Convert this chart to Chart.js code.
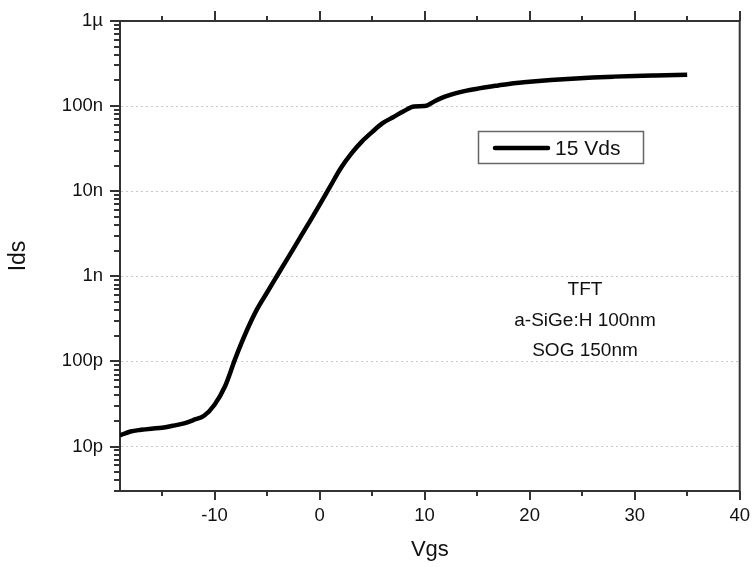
<!DOCTYPE html>
<html>
<head>
<meta charset="utf-8">
<script src="https://cdn.jsdelivr.net/npm/chart.js@4.4.1/dist/chart.umd.min.js"></script>
<style>
  html, body { margin: 0; padding: 0; background: #fff; }
  #wrap { width: 755px; height: 567px; }
</style>
</head>
<body>
<div id="wrap"><canvas id="chart" width="755" height="567"></canvas></div>
<script>
// 전달 특성
const vgs = [-19, -18, -17, -16, -15, -14, -13, -12, -11, -10, -9, -8, -7, -6, -5, -4, -3, -2, -1, 0,
  1, 2, 3, 4, 5, 6, 7, 8, 9, 10, 11, 12, 13, 14, 15, 16, 17, 18, 19, 20, 22, 24, 26, 28, 30, 32, 35];
const ids = [1.35e-11, 1.5e-11, 1.57e-11, 1.62e-11, 1.66e-11, 1.75e-11, 1.86e-11, 2.05e-11, 2.3e-11, 3.1e-11,
  5.1e-11, 1.1e-10, 2.2e-10, 4.0e-10, 6.45e-10, 1.035e-9, 1.66e-9, 2.66e-9, 4.27e-9, 6.9e-9,
  1.13e-8, 1.85e-8, 2.75e-8, 3.8e-8, 4.95e-8, 6.3e-8, 7.4e-8, 8.7e-8, 9.9e-8, 1.0e-7,
  1.15e-7, 1.3e-7, 1.42e-7, 1.52e-7, 1.6e-7, 1.68e-7, 1.75e-7, 1.82e-7, 1.88e-7, 1.93e-7,
  2.02e-7, 2.1e-7, 2.17e-7, 2.22e-7, 2.26e-7, 2.29e-7, 2.33e-7];

// 축 눈금
const xMajor = [-10, 0, 10, 20, 30, 40];
const xMinor = [-15, -5, 5, 15, 25, 35];
const yMajor = [1e-11, 1e-10, 1e-9, 1e-8, 1e-7, 1e-6];
const yLabels = ['10p', '100p', '1n', '10n', '100n', '1µ'];

const seriesName = '15 Vds';
const noteLines = ['TFT', 'a-SiGe:H 100nm', 'SOG 150nm'];

const FONT = '"Liberation Sans", Arial, sans-serif';
const AXIS = '#333';
const TEXT = '#111';

// 테두리, 눈금, 범례, 주석
const frame = {
  id: 'frame',
  afterDraw(chart) {
    const ctx = chart.ctx;
    const { left, right, top, bottom } = chart.chartArea;
    const sx = chart.scales.x, sy = chart.scales.y;
    ctx.save();
    ctx.strokeStyle = AXIS;
    ctx.lineWidth = 2;
    ctx.beginPath();
    ctx.moveTo(left - 1, top);
    ctx.lineTo(right, top);
    ctx.lineTo(right, bottom + 1);
    ctx.stroke();

    const line = (x1, y1, x2, y2) => {
      ctx.beginPath(); ctx.moveTo(x1, y1); ctx.lineTo(x2, y2); ctx.stroke();
    };
    xMajor.forEach(v => {
      const px = Math.round(sx.getPixelForValue(v));
      line(px, bottom, px, bottom + 9);
      line(px, top, px, top - 10);
    });
    xMinor.forEach(v => {
      const px = Math.round(sx.getPixelForValue(v));
      line(px, bottom, px, bottom + 5);
      line(px, top, px, top - 5);
    });
    yMajor.forEach(v => {
      const py = Math.round(sy.getPixelForValue(v));
      line(left, py, left - 10, py);
    });
    for (let k = -12; k < -6; k++) {
      for (let m = 2; m < 10; m++) {
        const v = m * Math.pow(10, k);
        if (v < sy.min || v > sy.max) continue;
        const py = Math.round(sy.getPixelForValue(v));
        line(left, py, left - 6, py);
      }
    }

    // 범례
    const bx = left + 358, by = top + 110;
    ctx.strokeStyle = '#666';
    ctx.lineWidth = 1.5;
    ctx.strokeRect(bx + 0.5, by + 0.5, 165, 32);
    ctx.strokeStyle = '#000';
    ctx.lineWidth = 4.5;
    ctx.lineCap = 'round';
    line(bx + 17, by + 17, bx + 70, by + 17);
    ctx.fillStyle = TEXT;
    ctx.font = '21px ' + FONT;
    ctx.textAlign = 'left';
    ctx.textBaseline = 'middle';
    ctx.fillText(seriesName, bx + 77, by + 18);

    // 주석
    ctx.font = '19px ' + FONT;
    ctx.textAlign = 'center';
    const cx = left + 465;
    noteLines.forEach((t, i) => ctx.fillText(t, cx, top + 269 + i * 30.5));
    ctx.restore();
  }
};

new Chart(document.getElementById('chart'), {
  type: 'line',
  data: {
    datasets: [{
      label: seriesName,
      data: vgs.map((v, i) => ({ x: v, y: ids[i] })),
      borderColor: '#000',
      borderWidth: 4.5,
      pointRadius: 0,
      cubicInterpolationMode: 'monotone',
      fill: false
    }]
  },
  options: {
    responsive: false,
    devicePixelRatio: 1,
    animation: false,
    layout: { padding: { top: 21, right: 13, left: 0, bottom: 0 } },
    plugins: { legend: { display: false }, tooltip: { enabled: false } },
    scales: {
      x: {
        type: 'linear',
        min: -19,
        max: 40,
        afterBuildTicks: s => { s.ticks = xMajor.map(v => ({ value: v })); },
        afterFit: s => { s.height = 76; },
        ticks: { color: TEXT, font: { family: FONT, size: 18.5 }, padding: 5, maxRotation: 0 },
        grid: { drawOnChartArea: false, tickColor: 'transparent', tickLength: 9 },
        border: { color: AXIS, width: 2 },
        title: { display: true, text: 'Vgs', color: TEXT, font: { family: FONT, size: 22 }, padding: { top: 0, bottom: 4 } }
      },
      y: {
        type: 'logarithmic',
        min: 3e-12,
        max: 1e-6,
        afterBuildTicks: s => { s.ticks = yMajor.map(v => ({ value: v })); },
        afterFit: s => { s.width = 120; },
        ticks: {
          color: TEXT,
          font: { family: FONT, size: 18.5 },
          padding: 7,
          callback: v => { const i = yMajor.indexOf(v); return i >= 0 ? yLabels[i] : ''; }
        },
        grid: {
          color: c => (c.tick && c.tick.value >= 1e-6) ? 'transparent' : '#c8c8c8',
          lineWidth: 1,
          tickColor: 'transparent',
          tickLength: 10
        },
        border: { color: AXIS, width: 2, dash: [2, 3] },
        title: { display: true, text: 'Ids', color: TEXT, font: { family: FONT, size: 23 }, padding: { top: 5, bottom: 0 } }
      }
    }
  },
  plugins: [frame]
});
</script>
</body>
</html>
